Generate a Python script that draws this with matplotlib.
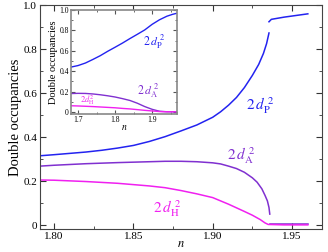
import matplotlib
matplotlib.use("Agg")
import matplotlib.pyplot as plt
from matplotlib.ticker import MultipleLocator, FixedLocator

plt.rcParams['font.family'] = ['Liberation Serif', 'DejaVu Serif']
plt.rcParams['mathtext.fontset'] = 'stix'

# ---- main panel data ----
n_p_low = [1.791, 1.80, 1.81, 1.82, 1.83, 1.84, 1.85, 1.86, 1.87, 1.88, 1.89, 1.90, 1.905, 1.91,
           1.915, 1.92, 1.925, 1.929, 1.932, 1.934, 1.9355]
dP_low = [0.315, 0.320, 0.326, 0.332, 0.340, 0.350, 0.362, 0.380, 0.402, 0.428, 0.455, 0.490, 0.515,
          0.545, 0.580, 0.625, 0.680, 0.730, 0.780, 0.825, 0.873]
n_p_high = [1.9355, 1.937, 1.945, 1.960]
dP_high = [0.924, 0.935, 0.945, 0.960]

n_a = [1.791, 1.80, 1.82, 1.84, 1.86, 1.87, 1.88, 1.89, 1.90, 1.905, 1.91, 1.915, 1.92, 1.925,
       1.928, 1.931, 1.933, 1.9345, 1.9355, 1.936]
dA = [0.268, 0.272, 0.279, 0.284, 0.288, 0.290, 0.290, 0.288, 0.283, 0.278, 0.268, 0.257, 0.240,
      0.215, 0.195, 0.165, 0.135, 0.110, 0.080, 0.050]
n_a2 = [1.936, 1.945, 1.960]
dA2 = [0.003, 0.003, 0.003]

n_h = [1.791, 1.80, 1.82, 1.84, 1.86, 1.87, 1.88, 1.89, 1.90, 1.91, 1.92, 1.925, 1.93, 1.933,
       1.935, 1.945, 1.960]
dH = [0.205, 0.204, 0.198, 0.190, 0.178, 0.170, 0.157, 0.142, 0.125, 0.095, 0.062, 0.045, 0.025,
      0.010, 0.003, 0.001, 0.001]

# ---- inset data ----
in_n = [1.681, 1.70, 1.72, 1.74, 1.76, 1.78, 1.80, 1.82, 1.84, 1.86, 1.88, 1.90, 1.92, 1.94, 1.955, 1.968]
in_dP = [0.440, 0.455, 0.480, 0.515, 0.552, 0.595, 0.635, 0.676, 0.720, 0.762, 0.805, 0.860, 0.905,
         0.940, 0.958, 0.970]
in_dA = [0.180, 0.182, 0.181, 0.176, 0.168, 0.158, 0.146, 0.130, 0.112, 0.085, 0.052, 0.025, 0.006,
         0.001, 0.001, 0.001]
in_dH = [0.060, 0.058, 0.055, 0.052, 0.048, 0.044, 0.040, 0.034, 0.029, 0.022, 0.015, 0.009, 0.003,
         0.001, 0.001, 0.001]

c_p = '#2323f0'
c_a = '#8030d0'
c_h = '#f020f0'

fig = plt.figure(figsize=(3.28, 2.52), dpi=100)
ax = fig.add_axes([0.122, 0.091, 0.860, 0.889])
ax.plot(n_p_low, dP_low, color=c_p, lw=1.1)
ax.plot(n_p_high, dP_high, color=c_p, lw=1.1)
ax.plot(n_a, dA, color=c_a, lw=1.1)
ax.plot(n_a2, dA2, color=c_a, lw=1.1)
ax.plot(n_h, dH, color=c_h, lw=1.1)
ax.set_xlim(1.7911, 1.969)
ax.set_ylim(-0.018, 1.0)
ax.xaxis.set_major_locator(FixedLocator([1.80, 1.85, 1.90, 1.95]))
ax.set_xticklabels(['1.80', '1.85', '1.90', '1.95'])
ax.xaxis.set_minor_locator(MultipleLocator(0.025))
ax.yaxis.set_major_locator(FixedLocator([0, 0.2, 0.4, 0.6, 0.8, 1.0]))
ax.set_yticklabels(['0', '0.2', '0.4', '0.6', '0.8', '1.0'])
ax.yaxis.set_minor_locator(MultipleLocator(0.1))
ax.tick_params(which='both', direction='in', top=True, right=True, labelsize=8, pad=2, colors='#333333', labelcolor='black')
ax.tick_params(which='major', length=4)
ax.tick_params(which='minor', length=2)
for s in ax.spines.values():
    s.set_color('#444444')
ax.set_ylabel('Double occupancies', fontsize=10.5, labelpad=1)
ax.set_xlabel(r'$n$', fontsize=9, labelpad=-2)
ax.text(1.930, 0.545, r'$2\,d_{\rm P}^{\;2}$', color=c_p, fontsize=11, ha='center', va='center')
ax.text(1.918, 0.315, r'$2\,d_{\rm A}^{\;2}$', color=c_a, fontsize=11, ha='center', va='center')
ax.text(1.8715, 0.077, r'$2\,d_{\rm H}^{\;2}$', color=c_h, fontsize=11, ha='center', va='center')

ins = fig.add_axes([0.2165, 0.548, 0.323, 0.412])
ins.plot(in_n, in_dP, color=c_p, lw=1.0)
ins.plot(in_n, in_dA, color=c_a, lw=1.0)
ins.plot(in_n, in_dH, color=c_h, lw=1.0)
ins.set_xlim(1.681, 1.967)
ins.set_ylim(-0.02, 1.0)
ins.xaxis.set_major_locator(FixedLocator([1.7, 1.8, 1.9]))
ins.set_xticklabels(['1.7', '1.8', '1.9'])
ins.xaxis.set_minor_locator(MultipleLocator(0.05))
ins.yaxis.set_major_locator(FixedLocator([0, 0.2, 0.4, 0.6, 0.8, 1.0]))
ins.set_yticklabels(['0', '0.2', '0.4', '0.6', '0.8', '1.0'])
ins.yaxis.set_minor_locator(MultipleLocator(0.1))
ins.tick_params(which='both', direction='in', top=True, right=True, labelsize=5.5, pad=1.5, colors='#555555', labelcolor='black')
ins.tick_params(which='major', length=3)
ins.tick_params(which='minor', length=1.5)
for s in ins.spines.values():
    s.set_color('#888888')
    s.set_linewidth(1.2)
ins.set_ylabel('Double occupancies', fontsize=7.5, labelpad=1)
ins.set_xlabel(r'$n$', fontsize=7, labelpad=-1)
ins.text(1.905, 0.69, r'$2\,d_{\rm P}^{\;2}$', color=c_p, fontsize=8.5, ha='center', va='center')
ins.text(1.89, 0.21, r'$2\,d_{\rm A}^{\;2}$', color=c_a, fontsize=8.5, ha='center', va='center')
ins.text(1.724, 0.12, r'$2d_{\rm H}^{2}$', color=c_h, fontsize=6, ha='center', va='center')

fig.savefig('out.png', dpi=100)
